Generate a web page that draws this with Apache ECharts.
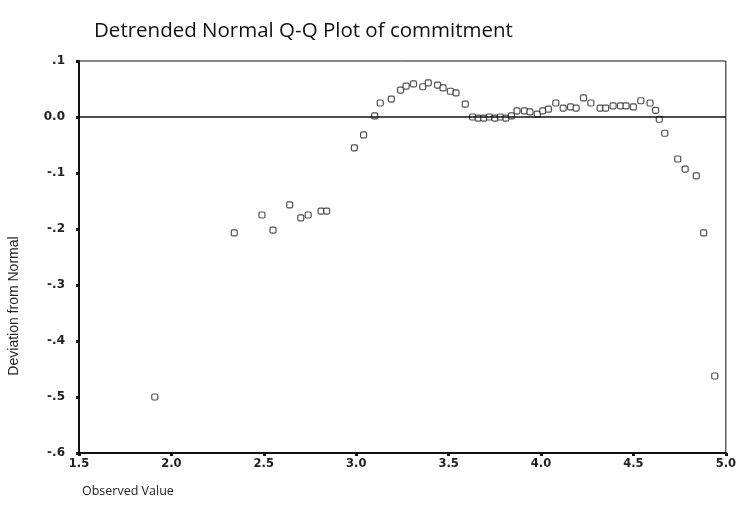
<!DOCTYPE html>
<html>
<head>
<meta charset="utf-8">
<script src="https://cdn.jsdelivr.net/npm/echarts@6/dist/echarts.min.js"></script>
<style>
  html, body { margin: 0; padding: 0; background: #fff; }
  #main { width: 739px; height: 530px; }
</style>
</head>
<body>
<div id="main"></div>
<script>
const observed = [
  1.91, 2.34, 2.49, 2.55, 2.64, 2.70, 2.74, 2.81, 2.84,
  2.99, 3.04, 3.10, 3.13, 3.19, 3.24, 3.27, 3.31, 3.36, 3.39, 3.44, 3.47, 3.51, 3.54, 3.59,
  3.63, 3.66, 3.69, 3.72, 3.75, 3.78, 3.81, 3.84,
  3.87, 3.91, 3.94, 3.98, 4.01, 4.04, 4.08, 4.12, 4.16, 4.19, 4.23, 4.27, 4.32, 4.35,
  4.39, 4.43, 4.46, 4.50, 4.54, 4.59, 4.62, 4.64, 4.67, 4.74, 4.78, 4.84, 4.88, 4.94
];
const deviation = [
  -0.50, -0.207, -0.175, -0.202, -0.157, -0.18, -0.175, -0.168, -0.168,
  -0.055, -0.032, 0.002, 0.025, 0.032, 0.048, 0.055, 0.059, 0.054, 0.061, 0.057, 0.052, 0.046, 0.043, 0.023,
  0.0, -0.002, -0.002, 0.0, -0.002, 0.0, -0.002, 0.002,
  0.011, 0.011, 0.009, 0.005, 0.011, 0.014, 0.025, 0.016, 0.018, 0.016, 0.034, 0.025, 0.016, 0.016,
  0.02, 0.02, 0.02, 0.018, 0.029, 0.025, 0.012, -0.004, -0.029, -0.075, -0.093, -0.105, -0.207, -0.4625
];

const points = observed.map((x, i) => [x, deviation[i]]);

let myChart = echarts.init(document.getElementById('main'));

let option = {
  backgroundColor: '#fff',
  animation: false,
  title: {
    text: 'Detrended Normal Q-Q Plot of commitment',
    left: 89,
    top: 16,
    textStyle: { fontFamily: 'Open Sans', fontSize: 20.5, fontWeight: 'normal', color: '#111' }
  },
  grid: {
    left: 79, right: 11, top: 61, bottom: 77,
    show: true, borderColor: '#111', borderWidth: 1
  },
  xAxis: {
    type: 'value',
    min: 1.5, max: 5.0, interval: 0.5,
    splitLine: { show: false },
    axisLine: { onZero: false, lineStyle: { color: '#111', width: 2 } },
    axisTick: { length: 3, lineStyle: { color: '#111', width: 3 } },
    axisLabel: {
      color: '#222', fontFamily: 'DejaVu Sans', fontWeight: 'bold', fontSize: 11.5, margin: 5,
      formatter: v => v.toFixed(1)
    }
  },
  yAxis: {
    type: 'value',
    min: -0.6, max: 0.1, interval: 0.1,
    splitLine: { show: false },
    axisLine: { onZero: false, lineStyle: { color: '#111', width: 2 } },
    axisTick: { length: 3, lineStyle: { color: '#111', width: 3 } },
    axisLabel: {
      color: '#222', fontFamily: 'DejaVu Sans', fontWeight: 'bold', fontSize: 12, margin: 14,
      formatter: v => {
        let r = Math.round(v * 10) / 10;
        if (r === 0) return '0.0';
        return r.toFixed(1).replace('0.', '.');
      }
    }
  },
  graphic: [
    {
      type: 'text', x: 14, y: 306, rotation: Math.PI / 2,
      style: {
        text: 'Deviation from Normal', fill: '#222',
        font: '14px "Liberation Sans"', textAlign: 'center', textVerticalAlign: 'middle'
      }
    },
    {
      type: 'text', x: 82, y: 485,
      style: { text: 'Observed Value', fill: '#222', font: '12.5px "Open Sans"' }
    }
  ],
  series: [
    {
      type: 'scatter',
      data: points,
      symbol: 'roundRect',
      symbolSize: 6,
      itemStyle: { color: '#fff', borderColor: '#222', borderWidth: 1.2 },
      markLine: {
        silent: true,
        symbol: ['none', 'none'],
        label: { show: false },
        lineStyle: { color: '#111', width: 1.5, type: 'solid' },
        data: [{ yAxis: 0 }]
      }
    }
  ]
};
myChart.setOption(option);
</script>
</body>
</html>
